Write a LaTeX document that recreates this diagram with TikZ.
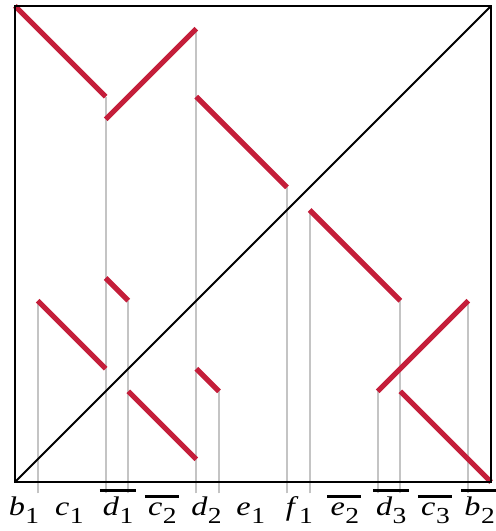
\documentclass[tikz,border=0pt]{standalone}
\usepackage{fontspec}
\setmainfont{Liberation Serif}
\newfontfamily\labfont[FakeStretch=1.2]{Liberation Serif}
\usetikzlibrary{positioning}
\definecolor{Crimson}{HTML}{C41E3A}
\definecolor{Rule}{HTML}{C4C4C4}
\newcommand{\lab}[2]{\textit{#1}\kern0.5pt\raisebox{-8.5pt}{\fontsize{23}{23}\selectfont #2}}

\begin{document}
\begin{tikzpicture}[
  x=0.8cm,y=0.8cm,
  frame/.style={draw=black,line width=2pt},
  diag/.style={draw=black,line width=1.9pt},
  seg/.style={draw=Crimson,line width=5.2pt},
  drop/.style={draw=Rule,line width=2pt},
  lbl/.style={anchor=base,inner sep=0pt,font=\labfont\fontsize{27}{30}\selectfont},
  bar/.style={draw=black,line width=2.2pt}
]
\useasboundingbox (-0.66,-2.16) rectangle (21.22,21.265);

% drops from the segment ends to the axis
\foreach \x/\h in {1/8,4/17,5/8,8/20,9/4,12/13,13/12,16/4,17/8,20/8}
  \draw[drop] (\x,-0.5) -- (\x,\h);

% segments
\foreach \a/\b/\c/\d in {0/21/4/17,4/16/8/20,8/17/12/13,13/12/17/8,16/4/20/8,
                         17/4/21/0,1/8/4/5,4/9/5/8,5/4/8/1,8/5/9/4}
  \draw[seg] (\a,\b) -- (\c,\d);

\draw[frame] (0,0) rectangle (21,21);
\draw[diag] (0,0) -- (21,21);

% labels
\node[lbl] (b1) at (0.4,-1.47) {\lab{b}{1}};
\node[lbl] (c1) at (2.4,-1.47) {\lab{c}{1}};
\node[lbl] (d1) at (4.55,-1.47) {\lab{d}{1}};
\node[lbl] (c2) at (6.5,-1.47) {\lab{c}{2}};
\node[lbl] (d2) at (8.45,-1.47) {\lab{d}{2}};
\node[lbl] (e1) at (10.4,-1.47) {\lab{e}{1}};
\node[lbl] (f1) at (12.55,-1.47) {\lab{f}{1}};
\node[lbl] (e2) at (14.55,-1.47) {\lab{e}{2}};
\node[lbl] (d3) at (16.6,-1.47) {\lab{d}{3}};
\node[lbl] (c3) at (18.55,-1.47) {\lab{c}{3}};
\node[lbl] (b2) at (20.5,-1.47) {\lab{b}{2}};
\foreach \n in {d1,c2,e2,d3,c3,b2}
  \draw[bar] ([xshift=-3pt,yshift=6pt]\n.north west) -- ([xshift=2pt,yshift=6pt]\n.north east);
\end{tikzpicture}
\end{document}
